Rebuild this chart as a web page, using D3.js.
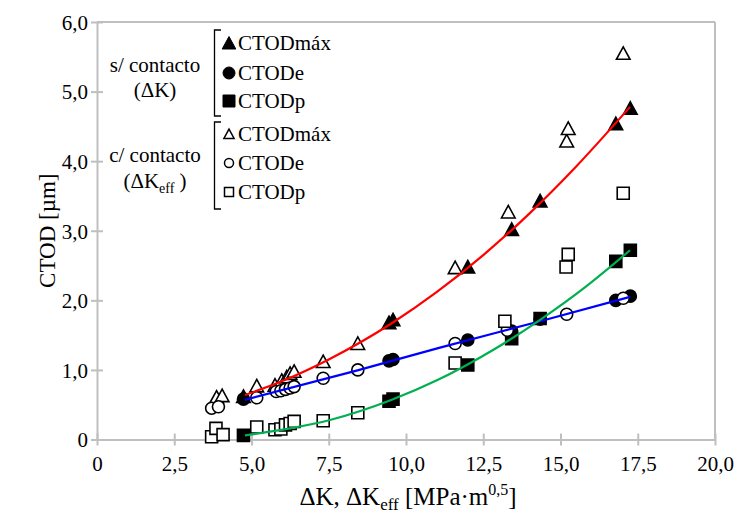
<!DOCTYPE html>
<html>
<head>
<meta charset="utf-8">
<title>CTOD vs DeltaK</title>
<script src="https://cdn.jsdelivr.net/npm/d3@7"></script>
<style>
  body { margin: 0; background: #fff; }
  svg text { font-family: "Times New Roman", "Liberation Serif", Tinos, serif; fill: #000; }
</style>
</head>
<body>
<div id="chart"></div>
<script>
// tick values and labels
var xTicks = [0, 2.5, 5, 7.5, 10, 12.5, 15, 17.5, 20];
var xTickLabels = ["0", "2,5", "5,0", "7,5", "10,0", "12,5", "15,0", "17,5", "20,0"];
var yTicks = [0, 1, 2, 3, 4, 5, 6];
var yTickLabels = ["0", "1,0", "2,0", "3,0", "4,0", "5,0", "6,0"];

// s/ contacto (DeltaK) - filled markers
var dK      = [4.74, 9.45, 9.58, 12.0, 13.42, 14.34, 16.79, 17.26];
var maxS    = [0.62, 1.68, 1.72, 2.48, 3.02, 3.43, 4.54, 4.76];
var eS      = [0.58, 1.13, 1.15, 1.43, 1.56, 1.73, 2.00, 2.06];
var pS      = [0.06, 0.55, 0.58, 1.07, 1.45, 1.74, 2.56, 2.72];

// c/ contacto (DeltaKeff) - open markers
var dKeffMax = [3.87, 4.05, 5.17, 5.76, 5.98, 6.14, 6.25, 6.38, 7.32, 8.44, 11.59, 13.31, 15.20, 15.25, 17.03];
var maxC     = [0.61, 0.63, 0.77, 0.78, 0.85, 0.90, 0.95, 0.98, 1.12, 1.38, 2.47, 3.27, 4.29, 4.47, 5.55];
var dKeffE   = [3.71, 3.93, 5.17, 5.80, 5.95, 6.10, 6.25, 6.38, 7.32, 8.44, 11.59, 13.28, 15.20, 17.03];
var eC       = [0.45, 0.47, 0.60, 0.69, 0.70, 0.72, 0.74, 0.76, 0.88, 1.00, 1.38, 1.57, 1.80, 2.03];
var dKeffP   = [3.71, 3.85, 4.08, 5.17, 5.76, 5.95, 6.10, 6.25, 6.38, 7.32, 8.44, 11.59, 13.20, 15.18, 15.25, 17.03];
var pC       = [0.04, 0.16, 0.07, 0.18, 0.14, 0.15, 0.21, 0.23, 0.26, 0.27, 0.385, 1.10, 1.70, 2.48, 2.66, 3.54];

// trend lines
var fitMaxX = [4.79, 6.0, 7.5, 9.54, 11.0, 12.5, 14.0, 15.5, 17.25];
var fitMaxY = [0.64, 0.84, 1.15, 1.67, 2.12, 2.65, 3.25, 3.92, 4.78];
var fitEX   = [4.79, 8.4, 11.1, 14.34, 17.25];
var fitEY   = [0.57, 0.99, 1.32, 1.70, 2.05];
var fitPX   = [4.79, 6.25, 7.54, 9.54, 11.0, 12.83, 14.34, 15.8, 17.25];
var fitPY   = [0.06, 0.16, 0.28, 0.57, 0.85, 1.29, 1.72, 2.19, 2.72];

var W = 738, H = 515;
var FONT = "'Times New Roman', 'Liberation Serif', serif";
var svg = d3.select("#chart").append("svg")
  .attr("width", W)
  .attr("height", H)
  .attr("font-family", FONT);

var x = d3.scaleLinear().domain([0, 20]).range([97, 715]);
var y = d3.scaleLinear().domain([0, 6]).range([439.5, 22]);

var gridColor = "#bfbfbf";

// frame (top and right)
svg.append("line").attr("x1", x(0)).attr("x2", x(20)).attr("y1", y(6)).attr("y2", y(6))
  .attr("stroke", gridColor).attr("stroke-width", 2);
svg.append("line").attr("x1", x(20)).attr("x2", x(20)).attr("y1", y(6)).attr("y2", y(0))
  .attr("stroke", gridColor).attr("stroke-width", 2);

// axes
var xAxis = svg.append("g")
  .attr("transform", "translate(0," + y(0) + ")")
  .call(d3.axisBottom(x).tickValues(xTicks).tickSize(6).tickSizeOuter(0)
    .tickFormat(function (d, i) { return xTickLabels[i]; }));
xAxis.selectAll(".tick line").attr("y1", -6);
var yAxis = svg.append("g")
  .attr("transform", "translate(" + x(0) + ",0)")
  .call(d3.axisLeft(y).tickValues(yTicks).tickSize(6).tickSizeOuter(0)
    .tickFormat(function (d, i) { return yTickLabels[i]; }));
yAxis.selectAll(".tick line").attr("x1", 6);

svg.selectAll("g").attr("font-family", FONT).attr("font-size", 21);
svg.selectAll(".domain, .tick line").attr("stroke", gridColor).attr("stroke-width", 2);
svg.selectAll(".tick text").attr("fill", "#000");
xAxis.selectAll(".tick text").attr("y", 12).attr("dy", "0.95em");
yAxis.selectAll(".tick text").attr("x", -9).attr("dy", "0.35em");

// axis titles
svg.append("text")
  .attr("transform", "translate(47," + ((y(0) + y(6)) / 2) + ") rotate(-90)")
  .attr("text-anchor", "middle")
  .attr("dy", "0.35em")
  .attr("font-size", 23)
  .text("CTOD [µm]");

var xt = svg.append("text")
  .attr("x", (x(0) + x(20)) / 2 + 2)
  .attr("y", 505)
  .attr("text-anchor", "middle")
  .attr("font-size", 25);
xt.append("tspan").text("ΔK, ΔK");
xt.append("tspan").attr("dy", 5).attr("font-size", 17).text("eff");
xt.append("tspan").attr("dy", -5).text(" [MPa·m");
xt.append("tspan").attr("dy", -10).attr("font-size", 16).text("0,5");
xt.append("tspan").attr("dy", 10).text("]");

// marker shapes
function markerPath(shape, cx, cy) {
  if (shape === "triangle") {
    var h = 6.5;
    return "M" + cx + "," + (cy - h) + "L" + (cx + 6.8) + "," + (cy + h - 0.5) +
      "L" + (cx - 6.8) + "," + (cy + h - 0.5) + "Z";
  }
  if (shape === "square") {
    var s = 6;
    return "M" + (cx - s) + "," + (cy - s) + "h" + (2 * s) + "v" + (2 * s) + "h" + (-2 * s) + "Z";
  }
  var r = 6;
  return "M" + (cx - r) + "," + cy + "a" + r + "," + r + " 0 1,0 " + (2 * r) + ",0" +
    "a" + r + "," + r + " 0 1,0 " + (-2 * r) + ",0Z";
}

function drawSeries(xs, ys, shape, filled) {
  var pts = xs.map(function (d, i) { return [d, ys[i]]; });
  svg.append("g").selectAll("path")
    .data(pts)
    .enter().append("path")
    .attr("d", function (d) { return markerPath(shape, x(d[0]), y(d[1])); })
    .attr("fill", filled ? "#000" : "#fff")
    .attr("stroke", "#000")
    .attr("stroke-width", 1.6);
}

drawSeries(dK, maxS, "triangle", true);
drawSeries(dK, eS, "circle", true);
drawSeries(dK, pS, "square", true);
drawSeries(dKeffMax, maxC, "triangle", false);
drawSeries(dKeffE, eC, "circle", false);
drawSeries(dKeffP, pC, "square", false);

// trend lines
var line = d3.line()
  .x(function (d) { return x(d[0]); })
  .y(function (d) { return y(d[1]); })
  .curve(d3.curveMonotoneX);

function drawFit(xs, ys, color) {
  svg.append("path")
    .datum(xs.map(function (d, i) { return [d, ys[i]]; }))
    .attr("d", line)
    .attr("fill", "none")
    .attr("stroke", color)
    .attr("stroke-width", 2.2);
}
drawFit(fitMaxX, fitMaxY, "#ff0000");
drawFit(fitEX, fitEY, "#0000ff");
drawFit(fitPX, fitPY, "#00b050");

// legend
var leg = svg.append("g").attr("font-size", 21);
function bracket(y0, y1) {
  leg.append("path")
    .attr("d", "M221," + y0 + "H214.5V" + y1 + "H221")
    .attr("fill", "none")
    .attr("stroke", "#000")
    .attr("stroke-width", 1.3);
}
bracket(30, 116);
bracket(122, 209);

leg.append("text").attr("x", 155).attr("y", 72).attr("text-anchor", "middle").text("s/ contacto");
leg.append("text").attr("x", 155).attr("y", 97).attr("text-anchor", "middle").text("(ΔK)");
leg.append("text").attr("x", 155).attr("y", 162).attr("text-anchor", "middle").text("c/ contacto");
var lk = leg.append("text").attr("x", 155).attr("y", 188).attr("text-anchor", "middle");
lk.append("tspan").text("(ΔK");
lk.append("tspan").attr("dy", 5).attr("font-size", 14).text("eff");
lk.append("tspan").attr("dy", -5).text(" )");

var legNames = ["CTODmáx", "CTODe", "CTODp"];
var legShapes = ["triangle", "circle", "square"];
var legY1 = [43, 73, 101];
var legY2 = [134, 163, 192];
legNames.forEach(function (name, i) {
  leg.append("path").attr("d", markerPath(legShapes[i], 229, legY1[i]))
    .attr("fill", "#000").attr("stroke", "#000").attr("stroke-width", 1);
  leg.append("text").attr("x", 238).attr("y", legY1[i]).attr("dy", "0.35em").text(name);
  leg.append("path").attr("d", markerPath(legShapes[i], 229, legY2[i]))
    .attr("transform", "translate(229," + legY2[i] + ") scale(0.75) translate(-229," + (-legY2[i]) + ")")
    .attr("fill", "#fff").attr("stroke", "#000").attr("stroke-width", 2);
  leg.append("text").attr("x", 238).attr("y", legY2[i]).attr("dy", "0.35em").text(name);
});
</script>
</body>
</html>
